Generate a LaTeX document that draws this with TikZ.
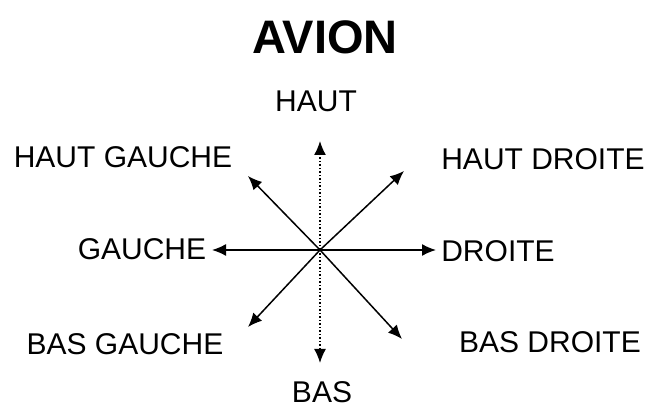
\documentclass[tikz,border=0pt]{standalone}
\usepackage{fontspec}
\setmainfont{Liberation Sans}
\usetikzlibrary{arrows.meta}

\begin{document}
\begin{tikzpicture}[x=1pt, y=1pt,
    dirlabel/.style={inner sep=0pt, font=\fontsize{30}{36}\selectfont},
    dirarrow/.style={line width=1.5pt, -{Latex[length=14pt, width=12pt]}}]
    \useasboundingbox (0,0) rectangle (647,409);
    % titre
    \node[inner sep=0pt, font=\fontsize{47}{56}\selectfont\bfseries] (titre) at (325,372) {AVION};
    % centre et extremites des fleches
    \coordinate (o) at (320,159);
    \coordinate (haut) at (320,268);
    \coordinate (bas) at (320,46);
    \coordinate (gauche) at (212,159);
    \coordinate (droite) at (436,159);
    \coordinate (hg) at (248,233);
    \coordinate (hd) at (404,238);
    \coordinate (bg) at (248,82);
    \coordinate (bd) at (402,70);
    % fleches
    \draw[dirarrow, dotted] (o) -- (haut);
    \draw[dirarrow, dotted] (o) -- (bas);
    \foreach \tip in {gauche, droite, hg, hd, bg, bd} {
        \draw[dirarrow] (o) -- (\tip);
      }
    % etiquettes
    \node[dirlabel] (lhaut) at (316,308) {HAUT};
    \node[dirlabel] (lbas) at (322,17) {BAS};
    \node[dirlabel] (lgauche) at (142,160) {GAUCHE};
    \node[dirlabel] (ldroite) at (498,158) {DROITE};
    \node[dirlabel] (lhg) at (123,252) {HAUT GAUCHE};
    \node[dirlabel] (lhd) at (543,250) {HAUT DROITE};
    \node[dirlabel] (lbg) at (125,65) {BAS GAUCHE};
    \node[dirlabel] (lbd) at (550,67) {BAS DROITE};
  \end{tikzpicture}
\end{document}
